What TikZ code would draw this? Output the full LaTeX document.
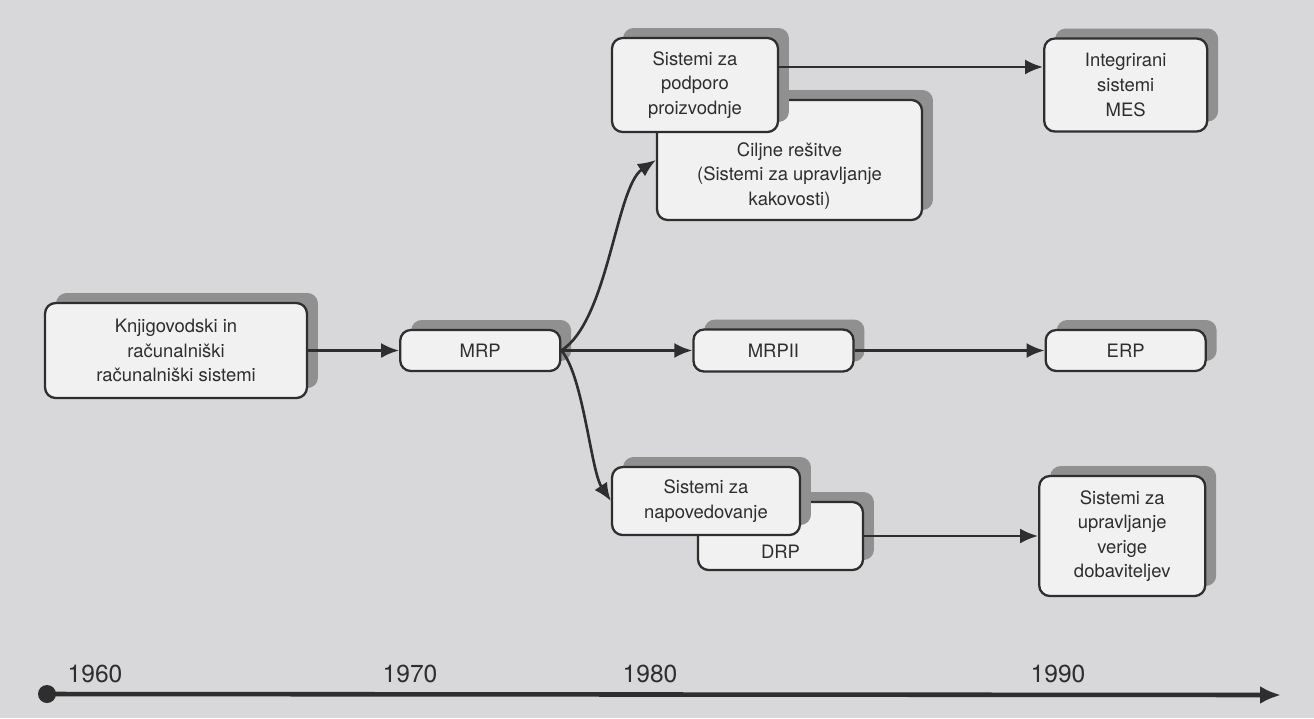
\documentclass[tikz,border=0pt]{standalone}
\usepackage{fontspec}
\setmainfont{TeX Gyre Heros}
\usetikzlibrary{arrows.meta,positioning,shadows}
\definecolor{scanbg}{HTML}{D8D8DA}
\definecolor{boxfill}{HTML}{F1F1F2}
\definecolor{boxline}{HTML}{2E2E2E}
\definecolor{shadowgray}{HTML}{909090}
\tikzstyle{block} = [rectangle, draw=boxline, line width=1.3pt, rounded corners=6pt,
    fill=boxfill, align=center, text=boxline, font=\fontsize{10.5}{14}\selectfont,
    drop shadow={shadow xshift=0.22cm, shadow yshift=0.2cm, fill=shadowgray, opacity=1}]
\tikzstyle{boxtext} = [align=center, font=\fontsize{10.5}{14}\selectfont, text=boxline]
\tikzstyle{arrow} = [-{Latex[length=3.6mm,width=3mm]}, line width=1.5pt, boxline]
\tikzstyle{year} = [font=\fontsize{14}{16}\selectfont, text=boxline]
\begin{document}
\begin{tikzpicture}[x=0.02cm, y=-0.02cm]
\fill[scanbg] (0,0) rectangle (1314,718);
\useasboundingbox (0,0) rectangle (1314,718);

% middle row
\node[block, minimum width=5.24cm, minimum height=1.9cm] (knjig) at (176,350.5)
    {Knjigovodski in\\računalniški\\računalniški sistemi};
\node[block, minimum width=3.2cm, minimum height=0.82cm, right=1.82cm of knjig] (mrp) {MRP};
\node[block, minimum width=3.2cm, minimum height=0.84cm, right=2.62cm of mrp] (mrpii) {MRPII};
\node[block, minimum width=3.2cm, minimum height=0.82cm, right=3.8cm of mrpii] (erp) {ERP};

% top row
\node[block, minimum width=5.3cm, minimum height=2.4cm,
    label={[boxtext, yshift=-0.32cm]center:Ciljne rešitve\\(Sistemi za upravljanje\\kakovosti)}]
    (ciljne) at (789.5,160) {};
\node[block, minimum width=3.32cm, minimum height=1.88cm] (podporo) at (695,85)
    {Sistemi za\\podporo\\proizvodnje};
\node[block, minimum width=3.26cm, minimum height=1.86cm, right=5.28cm of podporo] (integr)
    {Integrirani\\sistemi\\MES};

% bottom row
\node[block, minimum width=3.3cm, minimum height=1.36cm,
    label={[boxtext, yshift=-0.32cm]center:DRP}] (drp) at (780.5,536) {};
\node[block, minimum width=3.76cm, minimum height=1.36cm] (napov) at (706,501)
    {Sistemi za\\napovedovanje};
\node[block, minimum width=3.32cm, minimum height=2.4cm, right=3.48cm of drp] (verige)
    {Sistemi za\\upravljanje\\verige\\dobaviteljev};

% connectors
\draw[arrow] (knjig) -- (mrp);
\draw[arrow] (mrp) -- (mrpii);
\draw[arrow] (mrpii) -- (erp);
\draw[arrow] (mrp.east) .. controls +(47,-30) and +(-40,27) .. (ciljne.west);
\draw[arrow] (mrp.east) .. controls +(22,25) and +(-20,-30) .. (napov.west);
\coordinate (podout) at ([yshift=0.36cm]podporo.east);
\draw[arrow] (podout) -- (podout -| integr.west);
\draw[arrow] (drp.east) -- (drp.east -| verige.west);

% time axis
\node[circle, fill=boxline, inner sep=0pt, minimum size=0.36cm] (start) at (47,694) {};
\coordinate (axisend) at (1281,695);
\draw[line width=2.6pt, boxline, -{Latex[length=4.2mm,width=3.6mm]}] (start.center) -- (axisend);
\node[year] (y1960) at (95,674) {1960};
\node[year] (y1970) at (410,674) {1970};
\node[year] (y1980) at (650,674) {1980};
\node[year] (y1990) at (1058,674) {1990};
\end{tikzpicture}
\end{document}
